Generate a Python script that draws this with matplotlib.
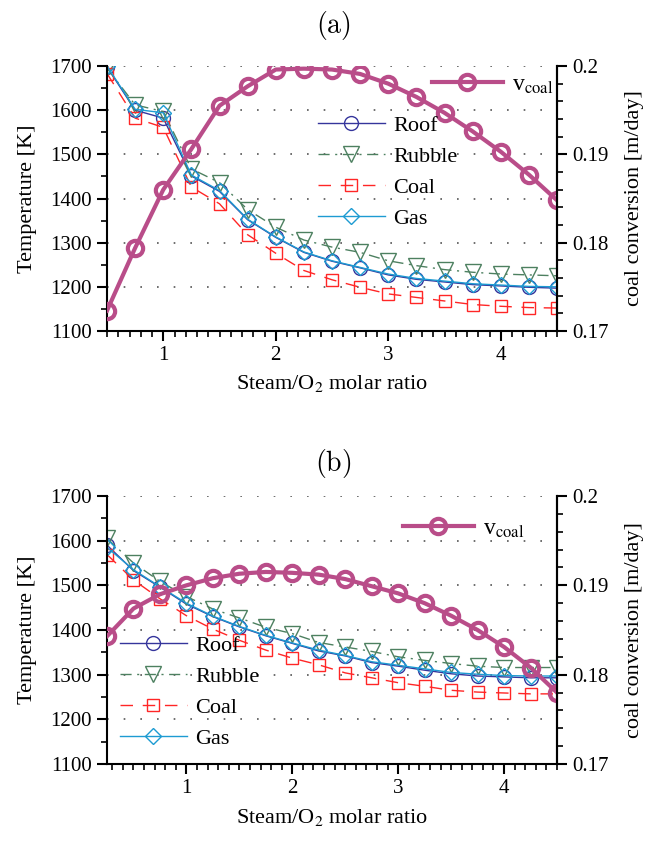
import matplotlib
matplotlib.use("Agg")
import matplotlib.pyplot as plt
from matplotlib.ticker import MultipleLocator, FixedLocator

plt.rcParams['font.family'] = ['Liberation Serif', 'DejaVu Serif']
plt.rcParams['mathtext.fontset'] = 'stix'

# ---------------- data ----------------
x_a = [0.5, 0.75, 1.0, 1.25, 1.5, 1.75, 2.0, 2.25, 2.5, 2.75, 3.0, 3.25, 3.5, 3.75, 4.0, 4.25, 4.5]
roof_a = [1698, 1600, 1582, 1451, 1416, 1352, 1312, 1278, 1258, 1243, 1227, 1217, 1211, 1205, 1202, 1199, 1197]
rubble_a = [1695, 1612, 1597, 1467, 1436, 1375, 1335, 1306, 1290, 1278, 1259, 1248, 1239, 1233, 1229, 1227, 1225]
coal_a = [1683, 1582, 1561, 1426, 1388, 1318, 1276, 1237, 1216, 1199, 1184, 1176, 1168, 1160, 1156, 1153, 1152]
gas_a = [1700, 1602, 1594, 1453, 1418, 1353, 1313, 1279, 1259, 1244, 1229, 1219, 1213, 1207, 1204, 1201, 1200]
v_a = [0.1723, 0.1794, 0.1860, 0.1906, 0.1955, 0.1977, 0.1996, 0.1997, 0.1996, 0.1991, 0.1980,
       0.1965, 0.1947, 0.1926, 0.1903, 0.1877, 0.1848]

x_b = [0.25, 0.5, 0.75, 1.0, 1.25, 1.5, 1.75, 2.0, 2.25, 2.5, 2.75, 3.0, 3.25, 3.5, 3.75, 4.0, 4.25, 4.5]
roof_b = [1590, 1533, 1496, 1458, 1430, 1407, 1387, 1370, 1353, 1342, 1327, 1319, 1310, 1302, 1297, 1295, 1293, 1293]
rubble_b = [1605, 1550, 1509, 1475, 1447, 1427, 1406, 1392, 1372, 1362, 1352, 1340, 1332, 1325, 1319, 1316, 1316, 1316]
coal_b = [1569, 1512, 1470, 1432, 1402, 1377, 1355, 1337, 1322, 1304, 1293, 1282, 1274, 1265, 1261, 1259, 1257, 1257]
gas_b = [1585, 1535, 1497, 1460, 1431, 1408, 1388, 1371, 1355, 1343, 1329, 1321, 1313, 1305, 1301, 1298, 1297, 1297]
v_b = [0.1843, 0.1874, 0.1890, 0.1900, 0.1908, 0.1913, 0.1915, 0.1914, 0.1912, 0.1907, 0.1899,
       0.1891, 0.1880, 0.1866, 0.1850, 0.1831, 0.1808, 0.1780]

temp_ticks = [1100, 1200, 1300, 1400, 1500, 1600, 1700]
v_ticks = [0.17, 0.18, 0.19, 0.2]
v_ticklabels = ['0.17', '0.18', '0.19', '0.2']
x_ticks = [1, 2, 3, 4]

C_ROOF = '#35359c'
C_RUBBLE = '#4d8060'
C_COAL = '#ff2626'
C_GAS = '#1d9bd2'
C_V = '#b94d89'

FS = 15
W, H = 646, 842
fig = plt.figure(figsize=(W / 100, H / 100), dpi=100)


def px(x0, y0, x1, y1):
    return [x0 / W, 1 - y1 / H, (x1 - x0) / W, (y1 - y0) / H]


def panel(rect, x, roof, rubble, coal, gas, v, xlim, title, title_y, leg1_anchor, leg2_anchor):
    ax = fig.add_axes(rect)
    l_roof, = ax.plot(x, roof, color=C_ROOF, lw=1.0, marker='o', ms=10, mfc='none', mew=1.0, label='Roof')
    l_rub, = ax.plot(x, rubble, color=C_RUBBLE, lw=1.0, marker='v', ms=11.5, mfc='none', mew=1.0,
                     dashes=(8, 4, 1.5, 4), label='Rubble')
    l_coal, = ax.plot(x, coal, color=C_COAL, lw=1.0, marker='s', ms=8.5, mfc='none', mew=1.0,
                      dashes=(9, 7), label='Coal')
    l_gas, = ax.plot(x, gas, color=C_GAS, lw=1.0, marker='D', ms=8.5, mfc='none', mew=1.0, label='Gas')
    ax.set_xlim(*xlim)
    ax.set_ylim(1100, 1700)
    ax.yaxis.set_major_locator(FixedLocator(temp_ticks))
    ax.yaxis.set_minor_locator(MultipleLocator(50))
    ax.xaxis.set_major_locator(FixedLocator(x_ticks))
    ax.xaxis.set_minor_locator(MultipleLocator(0.1))
    ax.grid(axis='y', which='major', color='#555555', linestyle=(0, (1, 9)), linewidth=1.2)
    ax.spines['top'].set_visible(False)
    for s in ['left', 'bottom', 'right']:
        ax.spines[s].set_linewidth(1.5)
    ax.tick_params(axis='both', which='major', direction='out', length=7, width=1.5, labelsize=FS, pad=4)
    ax.tick_params(axis='both', which='minor', direction='out', length=4, width=1.2)
    ax.tick_params(axis='y', right=False)
    ax.set_ylabel('Temperature [K]', fontsize=FS + 1)
    ax.yaxis.set_label_coords(-0.155, 0.5)
    ax.set_xlabel('Steam/O$_2$ molar ratio', fontsize=FS + 1)
    ax.xaxis.set_label_coords(0.5, -0.16)

    ax2 = ax.twinx()
    l_v, = ax2.plot(x, v, color=C_V, lw=3.0, marker='o', ms=11, mfc='none', mew=3.0, label=r'v$_{\rm coal}$')
    ax2.set_ylim(0.17, 0.2)
    ax2.yaxis.set_major_locator(FixedLocator(v_ticks))
    ax2.set_yticklabels(v_ticklabels)
    ax2.yaxis.set_minor_locator(MultipleLocator(0.002))
    ax2.spines['top'].set_visible(False)
    ax2.spines['right'].set_linewidth(1.5)
    ax2.spines['left'].set_visible(False)
    ax2.spines['bottom'].set_visible(False)
    ax2.tick_params(axis='y', which='major', direction='out', length=7, width=1.5, labelsize=FS, pad=4)
    ax2.tick_params(axis='y', which='minor', direction='out', length=4, width=1.2)
    ax2.set_ylabel('coal conversion [m/day]', fontsize=FS + 1)
    ax2.yaxis.set_label_coords(1.152, 0.5)

    leg1 = ax2.legend([l_roof, l_rub, l_coal, l_gas], ['Roof', 'Rubble', 'Coal', 'Gas'],
                      loc='upper left', bbox_to_anchor=leg1_anchor, bbox_transform=fig.transFigure,
                      frameon=False, fontsize=FS + 1, handlelength=3.0, handletextpad=0.4,
                      labelspacing=0.48, borderpad=0, borderaxespad=0)
    ax2.add_artist(leg1)
    ax2.legend([l_v], [r'v$_{\rm coal}$'], loc='upper left', bbox_to_anchor=leg2_anchor,
               bbox_transform=fig.transFigure, frameon=False, fontsize=FS + 2, handlelength=3.0,
               handletextpad=0.4, borderpad=0, borderaxespad=0)

    fig.text(333 / W, 1 - title_y / H, r'$\mathrm{(a)}$' if title == 'a' else r'$\mathrm{(b)}$',
             ha='center', va='center', fontsize=20, math_fontfamily='cm')
    return ax, ax2


panel(px(107, 66, 557, 331), x_a, roof_a, rubble_a, coal_a, gas_a, v_a, (0.5, 4.5), 'a', 25,
      (318 / W, 1 - 115 / H), (432 / W, 1 - 74 / H))
panel(px(107, 496, 557, 764), x_b, roof_b, rubble_b, coal_b, gas_b, v_b, (0.25, 4.5), 'b', 463,
      (120 / W, 1 - 635 / H), (403 / W, 1 - 518 / H))

fig.savefig('out.png', dpi=100)
